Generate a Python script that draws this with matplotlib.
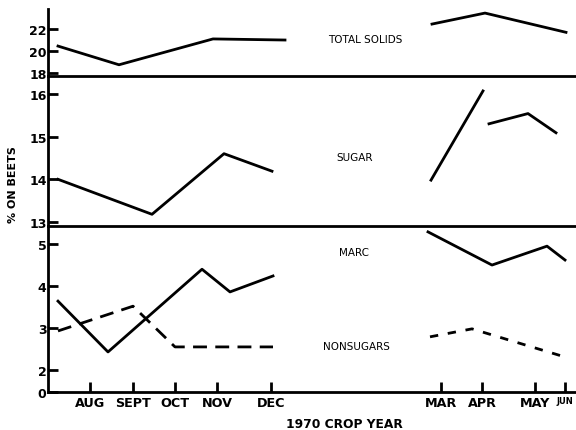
import matplotlib.pyplot as plt

# x axis in weeks of the crop year (approx)
month_pos = [4.2, 8.5, 12.7, 16.9, 22.3, 39.3, 43.4, 48.7, 51.7]
month_lab = ['AUG', 'SEPT', 'OCT', 'NOV', 'DEC', 'MAR', 'APR', 'MAY', 'JUN']

# total solids
ts1_x = [1.0, 7.1, 16.5, 23.7]
ts1_y = [20.45, 18.75, 21.1, 21.0]
ts2_x = [38.4, 43.7, 51.8]
ts2_y = [22.45, 23.45, 21.7]

# sugar
su1_x = [1.0, 10.4, 17.6, 22.4]
su1_y = [14.0, 13.18, 14.6, 14.19]
su2_x = [38.3, 43.5]
su2_y = [13.98, 16.07]
su3_x = [44.1, 48.0, 50.8]
su3_y = [15.3, 15.54, 15.09]

# marc
ma1_x = [1.0, 6.0, 15.4, 18.2, 22.5]
ma1_y = [3.64, 2.43, 4.4, 3.86, 4.24]
ma2_x = [38.0, 44.4, 49.9, 51.7]
ma2_y = [5.29, 4.5, 4.95, 4.62]

# nonsugars
ns1_x = [1.0, 8.5, 12.7, 22.5]
ns1_y = [2.93, 3.52, 2.55, 2.55]
ns2_x = [38.2, 42.4, 51.7]
ns2_y = [2.79, 2.98, 2.31]

W, H = 576, 431
fig = plt.figure(figsize=(5.76, 4.31), dpi=100)
left = 48 / W
width = 1 - left


def make_ax(top_px, bot_px):
    ax = fig.add_axes([left, 1 - bot_px / H, width, (bot_px - top_px) / H])
    ax.set_xlim(0, 52.8)
    ax.spines['top'].set_visible(False)
    ax.spines['right'].set_visible(False)
    ax.spines['left'].set_linewidth(2)
    ax.spines['bottom'].set_linewidth(2)
    ax.tick_params(axis='y', direction='in', length=7, width=2, pad=1,
                   labelsize=9)
    ax.patch.set_visible(False)
    return ax


lw = 2.0
bold = dict(fontweight='bold', family='DejaVu Sans')
lab = 7.5

ax1 = make_ax(10, 77)
ax1.set_ylim(17.73, 23.82)
ax1.set_yticks([18, 20, 22])
ax1.set_xticks([])
ax1.plot(ts1_x, ts1_y, color='black', lw=lw, clip_on=False)
ax1.plot(ts2_x, ts2_y, color='black', lw=lw, clip_on=False)
ax1.text(0.6, 0.55, 'TOTAL SOLIDS', transform=ax1.transAxes, ha='center',
         va='center', fontsize=lab)

ax2 = make_ax(77, 227)
ax2.set_ylim(12.906, 16.42)
ax2.set_yticks([13, 14, 15, 16])
ax2.set_xticks([])
ax2.plot(su1_x, su1_y, color='black', lw=lw, clip_on=False)
ax2.plot(su2_x, su2_y, color='black', lw=lw, clip_on=False)
ax2.plot(su3_x, su3_y, color='black', lw=lw, clip_on=False)
ax2.text(0.58, 0.46, 'SUGAR', transform=ax2.transAxes, ha='center',
         va='center', fontsize=lab)

ax3 = make_ax(227, 393)
ax3.set_ylim(1.476, 5.43)
ax3.set_yticks([1.476, 2, 3, 4, 5])
ax3.set_yticklabels(['0', '2', '3', '4', '5'], fontsize=9, **bold)
ax3.plot(ma1_x, ma1_y, color='black', lw=lw, clip_on=False)
ax3.plot(ma2_x, ma2_y, color='black', lw=lw, clip_on=False)
ax3.plot(ns1_x, ns1_y, color='black', lw=lw, ls=(0, (5, 3)))
ax3.plot(ns2_x, ns2_y, color='black', lw=lw, ls=(0, (3, 3.5)))
ax3.text(0.58, 0.843, 'MARC', transform=ax3.transAxes, ha='center',
         va='center', fontsize=lab)
ax3.text(0.584, 0.277, 'NONSUGARS', transform=ax3.transAxes, ha='center',
         va='center', fontsize=lab)
ax3.set_xticks(month_pos)
ax3.set_xticklabels(month_lab, fontsize=9.2, **bold)
ax3.get_xticklabels()[-1].set_fontsize(6)
ax3.tick_params(axis='x', direction='in', length=7, width=2, pad=3)

for ax in (ax1, ax2):
    for t in ax.get_yticklabels():
        t.set_fontweight('bold')

fig.text(344 / W, 1 - 425 / H, '1970 CROP YEAR', ha='center', va='center',
         fontsize=8.8, **bold)
fig.text(13 / W, 1 - 185 / H, '% ON BEETS', ha='center', va='center',
         rotation=90, fontsize=8, **bold)

fig.savefig('out.png', dpi=100)
